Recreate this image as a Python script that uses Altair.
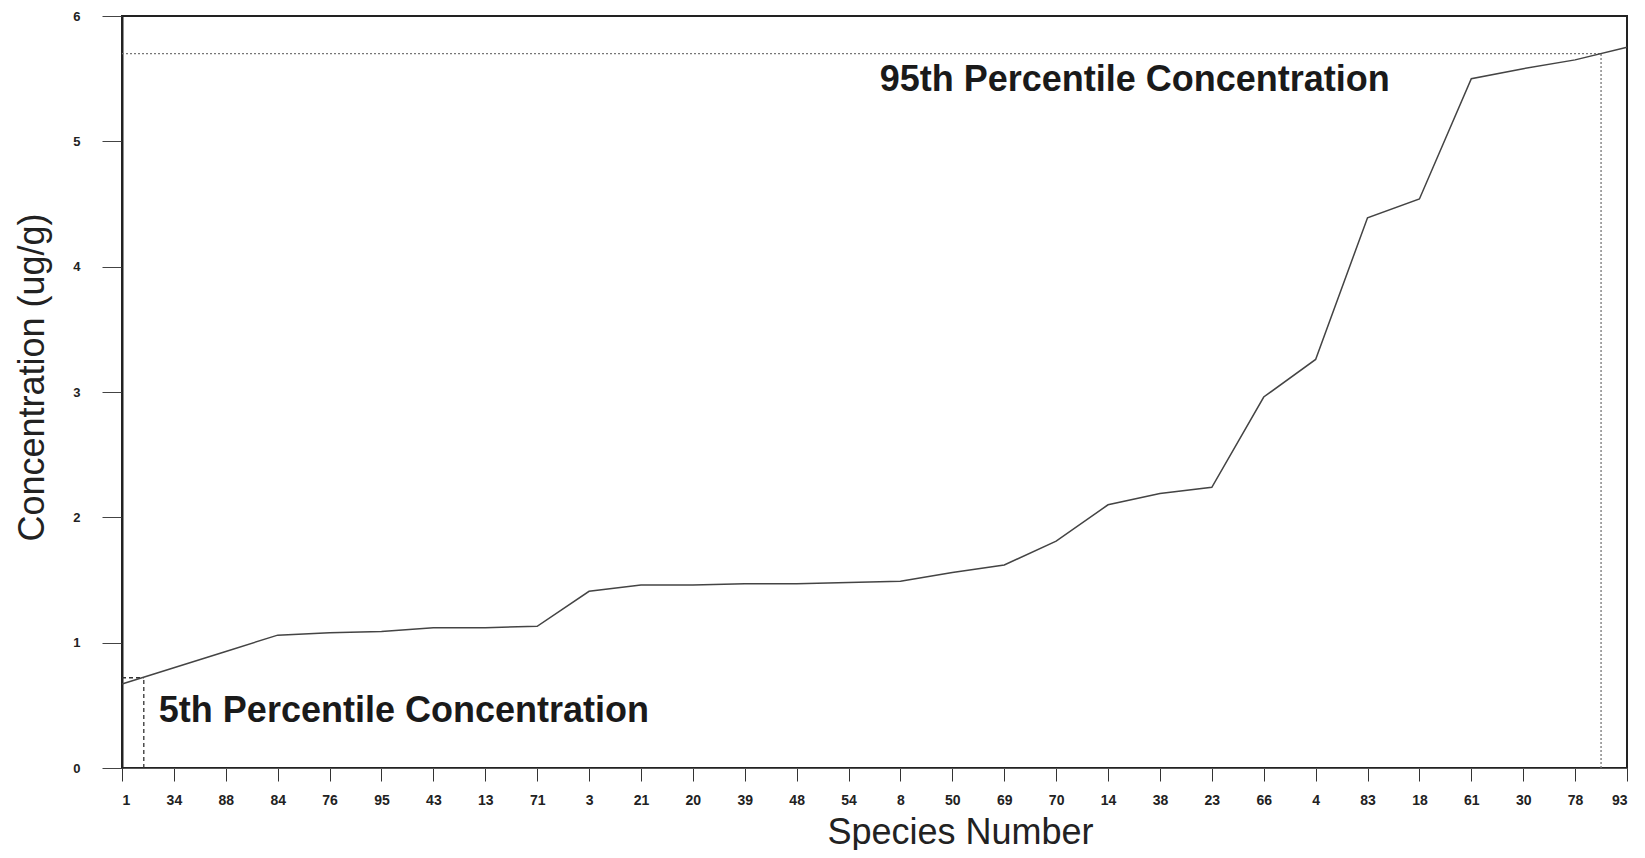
import altair as alt
import pandas as pd

# ---- data ----
species = ["1", "34", "88", "84", "76", "95", "43", "13", "71", "3",
           "21", "20", "39", "48", "54", "8", "50", "69", "70", "14",
           "38", "23", "66", "4", "83", "18", "61", "30", "78", "93"]
concentration = [0.67, 0.80, 0.93, 1.06, 1.08, 1.09, 1.12, 1.12, 1.13, 1.41,
                 1.46, 1.46, 1.47, 1.47, 1.48, 1.49, 1.56, 1.62, 1.81, 2.10,
                 2.19, 2.24, 2.96, 3.26, 4.39, 4.54, 5.50, 5.58, 5.65, 5.75]

p5_rank, p5_value = 0.42, 0.72
p95_rank, p95_value = 28.5, 5.70

y_ticks = [0, 1, 2, 3, 4, 5, 6]

annot_text = ["95th Percentile Concentration", "5th Percentile Concentration"]
annot_x = [14.6, 0.71]
annot_y = [5.40, 0.37]

FONT = "Liberation Sans"

df = pd.DataFrame({"rank": list(range(len(species))), "species": species,
                   "conc": concentration})

label_expr = "[" + ",".join("'" + s + "'" for s in species) + "][datum.value]"

x_scale = alt.Scale(domain=[0, len(species) - 1], nice=False, zero=False)
y_scale = alt.Scale(domain=[0, 6], nice=False)

x_axis = alt.Axis(values=list(range(len(species))), labelExpr=label_expr,
                  grid=False, tickSize=13, tickColor="#333", domainColor="#555",
                  domainWidth=1.2, labelFont=FONT, labelFontSize=14,
                  labelFontWeight="bold", labelColor="#222", labelPadding=12,
                  labelBaseline="top",
                  title="Species Number", titleFont=FONT, titleFontSize=36,
                  titleFontWeight="normal", titleColor="#222",
                  titleX=838, titleY=75, titleAlign="center",
                  titleBaseline="alphabetic")
y_axis = alt.Axis(values=y_ticks, format="d", grid=False, tickSize=20,
                  tickColor="#444", domainColor="#222", domainWidth=2,
                  labelFont=FONT, labelFontSize=13, labelFontWeight="bold",
                  labelColor="#222", labelPadding=22,
                  title="Concentration (ug/g)", titleFont=FONT, titleFontSize=36,
                  titleFontWeight="normal", titleColor="#222",
                  titleX=-90, titleY=361, titleAngle=-90, titleAlign="center",
                  titleBaseline="middle")

line = alt.Chart(df).mark_line(color="#444", strokeWidth=1.5).encode(
    x=alt.X("rank:Q", scale=x_scale, axis=x_axis),
    y=alt.Y("conc:Q", scale=y_scale, axis=y_axis),
)

rules_df = pd.DataFrame({
    "x": [p5_rank, 0, p95_rank, 0],
    "x2": [p5_rank, p5_rank, p95_rank, p95_rank],
    "y": [0, p5_value, 0, p95_value],
    "y2": [p5_value, p5_value, p95_value, p95_value],
    "kind": ["p5", "p5", "p95", "p95"],
})

p5_rules = alt.Chart(rules_df[rules_df.kind == "p5"]).mark_rule(
    color="#333", strokeWidth=1.3, strokeDash=[4, 3]).encode(
    x=alt.X("x:Q", scale=x_scale), x2="x2:Q",
    y=alt.Y("y:Q", scale=y_scale), y2="y2:Q")

p95_rules = alt.Chart(rules_df[rules_df.kind == "p95"]).mark_rule(
    color="#777", strokeWidth=1.3, strokeDash=[2, 2]).encode(
    x=alt.X("x:Q", scale=x_scale), x2="x2:Q",
    y=alt.Y("y:Q", scale=y_scale), y2="y2:Q")

ann_df = pd.DataFrame({"text": annot_text, "x": annot_x, "y": annot_y})
annots = alt.Chart(ann_df).mark_text(
    font=FONT, fontSize=36, fontWeight="bold", color="#1a1a1a",
    align="left", baseline="alphabetic").encode(
    x=alt.X("x:Q", scale=x_scale), y=alt.Y("y:Q", scale=y_scale), text="text:N")

chart = (p95_rules + p5_rules + line + annots).properties(
    width=1505, height=752,
    autosize=alt.AutoSizeParams(type="none"),
    padding={"left": 114, "top": 8, "right": 10, "bottom": 82},
    background="white",
).configure_view(stroke="#222", strokeWidth=2)

chart.save("out.html", embed_options={"renderer": "svg", "actions": False})
